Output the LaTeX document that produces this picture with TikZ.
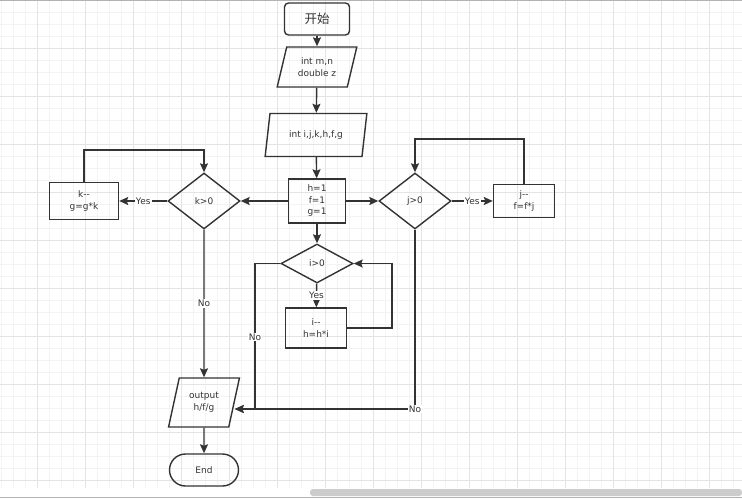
\documentclass[tikz,border=0pt]{standalone}
\usepackage{fontspec}
\setmainfont{DejaVu Sans}
\newfontfamily\cjk{Noto Sans CJK SC}
\usetikzlibrary{shapes.geometric,shapes.misc,arrows.meta}
\definecolor{ink}{HTML}{333333}
\definecolor{gridminor}{HTML}{F3F3F3}
\definecolor{gridmajor}{HTML}{E4E4E4}
\begin{document}
\begin{tikzpicture}[x=1pt, y=-1pt, line width=1.4pt,
  every node/.append style={font=\fontsize{9}{11.5}\selectfont, text=ink, align=center, inner sep=0pt},
  proc/.style={draw=ink, rectangle},
  io/.style={draw=ink, trapezium, trapezium left angle=72, trapezium right angle=108, trapezium stretches=true},
  dec/.style={draw=ink, diamond},
  flow/.style={draw=ink, -{Stealth[length=9pt,width=8pt,inset=1.5pt]}},
  lbl/.style={fill=white, inner sep=1pt}]
  \useasboundingbox (0,0) rectangle (742,499);
  % background grid
  \foreach \x in {1,13,...,741} \draw[gridminor, line width=0.6pt] (\x,0) -- (\x,488);
  \foreach \y in {12,24,...,480} \draw[gridminor, line width=0.6pt] (0,\y) -- (742,\y);
  \foreach \x in {37,85,...,741} \draw[gridmajor, line width=0.7pt] (\x,0) -- (\x,488);
  \foreach \y in {48,96,...,480} \draw[gridmajor, line width=0.7pt] (0,\y) -- (742,\y);
  \draw[gray!60, line width=0.8pt] (0,0.4) -- (742,0.4);
  \fill[gray!40, rounded corners=3pt] (310,489) rectangle (742,496);
  \draw[gray!60, line width=0.8pt] (0,497.5) -- (742,497.5);

  \node[proc, rounded corners=4pt, minimum width=65pt, minimum height=32pt, font=\cjk\fontsize{12.5}{14}\selectfont] (start) at (317,19) {开始};
  \node[io, minimum width=80pt, minimum height=40pt] (io1) at (317,67) {int m,n\\double z};
  \node[io, minimum width=102pt, minimum height=43pt] (io2) at (316,135) {int i,j,k,h,f,g};
  \node[proc, minimum width=57pt, minimum height=44pt] (init) at (317,201) {h=1\\f=1\\g=1};
  \node[dec, minimum width=72pt, minimum height=39pt] (idec) at (317,263.5) {i>0};
  \node[proc, minimum width=61pt, minimum height=40pt] (ibody) at (316,328) {i-{}-\\h=h*i};
  \node[dec, minimum width=72pt, minimum height=56pt] (kdec) at (204,201) {k>0};
  \node[proc, minimum width=69pt, minimum height=37pt] (kbody) at (84,201) {k-{}-\\g=g*k};
  \node[dec, minimum width=72pt, minimum height=56pt] (jdec) at (415,201) {j>0};
  \node[proc, minimum width=61pt, minimum height=33pt] (jbody) at (524,201) {j-{}-\\f=f*j};
  \node[io, minimum width=71pt, minimum height=49pt] (out) at (204,402.5) {output\\h/f/g};
  \node[draw=ink, rounded rectangle, minimum width=69pt, minimum height=32pt] (endn) at (204,470) {End};
  \coordinate (outin) at ([yshift=-6.5pt]out.east);

  \draw[flow] (start) -- (io1);
  \draw[flow] (io1) -- (io2);
  \draw[flow] (io2) -- (init);
  \draw[flow] (init) -- (kdec);
  \draw[flow] (init) -- (jdec);
  \draw[flow] (init) -- (idec);
  \draw[flow] (idec) -- node[lbl] {Yes} (ibody);
  \coordinate (iloop) at (392,328);
  \draw[flow] (ibody.east) -- (iloop) |- (idec.east);
  \coordinate (ino) at (255,337);
  \draw[flow] (idec.west) -| (ino) node[lbl] {No} |- (outin);
  \draw[flow] (kdec) -- node[lbl] {Yes} (kbody);
  \coordinate (ktop) at (84,150);
  \draw[flow] (kbody.north) -- (ktop) -| (kdec.north);
  \draw[flow] (kdec) -- node[lbl] {No} (out);
  \draw[flow] (jdec) -- node[lbl] {Yes} (jbody);
  \coordinate (jtop) at (524,139);
  \draw[flow] (jbody.north) -- (jtop) -| (jdec.north);
  \draw[flow] (jdec.south) |- node[lbl] {No} (outin);
  \draw[flow] (out) -- (endn);
\end{tikzpicture}
\end{document}
